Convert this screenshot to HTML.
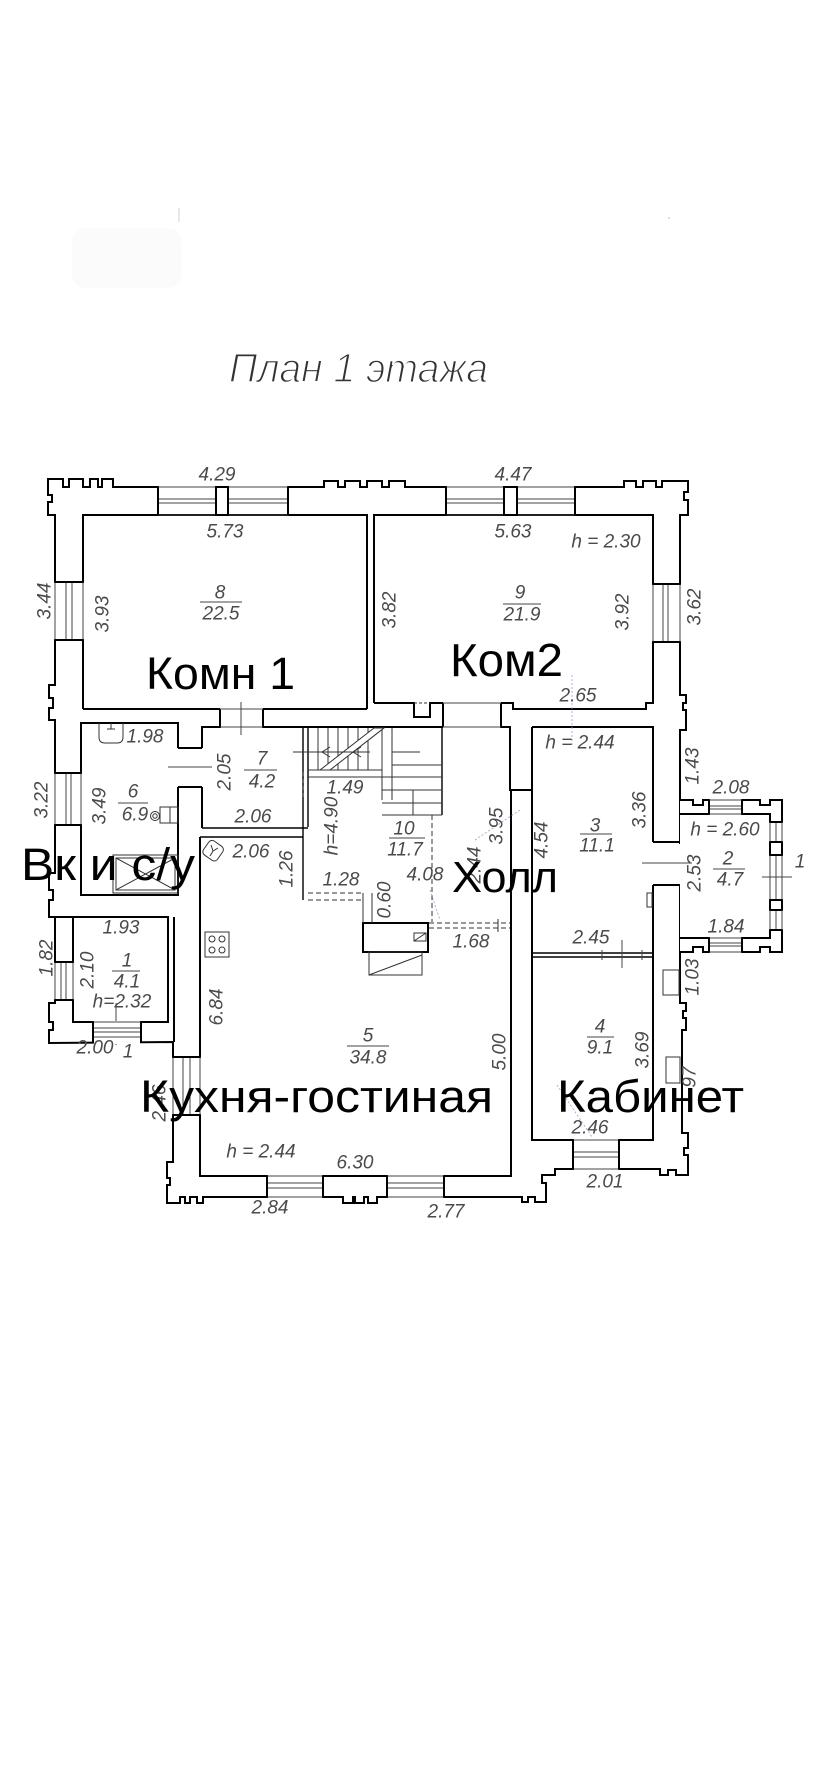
<!DOCTYPE html>
<html>
<head>
<meta charset="utf-8">
<style>
html,body{margin:0;padding:0;background:#fff;}
svg{display:block;}
.d{font-family:"Liberation Sans","DejaVu Sans",sans-serif;font-style:italic;font-size:19px;fill:#4a4a4a;text-anchor:middle;dominant-baseline:central;}
.big{font-family:"Liberation Sans","Noto Sans CJK SC",sans-serif;fill:#000;}
</style>
</head>
<body>
<svg width="828" height="1792" viewBox="0 0 828 1792" xmlns="http://www.w3.org/2000/svg">
<rect width="828" height="1792" fill="#fff"/>

<!-- faint marks at top -->
<rect x="72" y="228" width="110" height="60" rx="14" fill="#fbfbfb"/>
<line x1="179" y1="208" x2="179" y2="222" stroke="#d0d0d0" stroke-width="1"/>
<circle cx="669" cy="218" r="0.8" fill="#bbb"/>

<!-- title -->
<text x="229" y="382" font-family="Liberation Sans, Noto Sans CJK SC, sans-serif" font-style="italic" font-size="41" fill="#333" stroke="#fff" stroke-width="1.4" textLength="259" lengthAdjust="spacingAndGlyphs">План 1 этажа</text>

<!-- OUTER OUTLINE -->
<polygon fill="#fff" stroke="#000" stroke-width="2" stroke-linejoin="miter" points="
48,479 63,479 63,487 69,487 69,479 83,479 83,487 90,487 90,479 98,479 98,487 102,487 102,479 113,479 113,487
324,487 324,481 338,481 338,487 345,487 345,481 360,481 360,487 367,487 367,481 382,481 382,487 389,487 389,481 405,481 405,487
624,487 624,481 636,481 636,487 643,487 643,481 656,481 656,487 662,487 662,481 688,481
688,492 684,492 684,500 688,500 688,515 680,515
680,695 686,695 686,703 683,703 683,710 686,710 686,730 680,730
680,1003 686,1003 686,1011 683,1011 683,1018 686,1018 686,1030 682,1030
682,1133 688,1133 688,1148 684,1148 684,1155 688,1155 688,1175 676,1175 676,1170 668,1170 668,1175 660,1175 660,1169
555,1169 555,1175 542,1175 542,1183 546,1183 546,1202 535,1202 535,1197 528,1197 528,1202 522,1202 522,1197
377,1197 377,1203 368,1203 368,1197 364,1197 364,1203 355,1203 355,1197 353,1197 353,1203 343,1203 343,1197
203,1197 203,1203 197,1203 197,1197 190,1197 190,1203 185,1203 185,1197 180,1197 180,1203 167,1203
167,1185 170,1185 170,1178 167,1178 167,1162 173,1162 173,1042
49,1043 49,1030 53,1030 53,1022 49,1022 49,1003 55,1003
55,917 49,917 49,900 53,900 53,890 49,890 49,873 55,873
55,720 49,720 49,708 53,708 53,698 49,698 49,685 55,685
55,515 48,515 48,502 52,502 52,495 48,495"/>

<!-- PORCH (room 2) -->
<path fill="#fff" stroke="#000" stroke-width="2" d="M680 800 H693 V805 H703 V800 H760 V805 H770 V800 H782 V952 H770 V947 H760 V952 H703 V947 H693 V952 H680"/>
<path fill="none" stroke="#000" stroke-width="2" d="M680 814 H770 V938 H680"/>

<!-- ROOM WALL LINES -->
<g fill="none" stroke="#000" stroke-width="2">
  <path d="M83 709 V515 H367 V709"/>
  <path d="M83 709 H220 M263 709 H367"/>
  <path d="M374 703 V515 H653 V703 H646 V709 H513 V703 H501"/>
  <path d="M443 703 H430 V717 H414 V703 H374"/>
  <path d="M443 703 V727 M501 703 V727 H510 V790 H532"/>
  <path d="M178 748 V723 H81 V895 H178 V787"/>
  <path d="M178 748 H202 M178 787 H202"/>
  <path d="M220 709 V727 H202 V748 M202 787 V828"/>
  <path d="M263 709 V727 H443"/>
  <path d="M200 837 V1176 H511 V790"/>
  <path d="M532 727 V1140 H653 V885 M653 842 V727 H532"/>
  <path d="M653 842 H680 M653 885 H680"/>
  <path d="M55 917 H168 V1022 H73 V917"/>
  <path d="M174 917 V1042"/>
  <rect x="363" y="923" width="65" height="29"/>
</g>
<g fill="none" stroke="#000" stroke-width="1.4">
  <path d="M202 828 H308 M200 837 H303"/>
  <path d="M303 727 V900 M308 727 V827"/>
  <path d="M442 727 V815"/>
  <path d="M532 953 H653 M532 957 H653"/>
</g>

<!-- door openings (thin) -->
<g stroke="#444" stroke-width="1" fill="none">
  <path d="M220 709 H263 M220 727 H263"/>
  <path d="M241 702 V735"/>
  <path d="M168 767 H212"/>
  <path d="M443 703 H501 M443 727 H501"/>
  <path d="M642 863 H692"/>
  <path d="M762 877 H792"/>
  <path d="M622 940 V968 M602 950 V960 M642 950 V960"/>
  <path d="M116 1003 V1045"/>
</g>

<!-- WINDOWS -->
<g>
  <rect x="159" y="484" width="128" height="30" fill="#fff"/>
  <rect x="447" y="484" width="127" height="30" fill="#fff"/>
  <g stroke="#444" stroke-width="1">
    <path d="M158 487 H288 M158 499 H288 M158 503 H288 M158 515 H288"/>
    <path d="M446 487 H575 M446 499 H575 M446 503 H575 M446 515 H575"/>
  </g>
  <g stroke="#000" stroke-width="2" fill="#fff">
    <path d="M158 487 V515 M288 487 V515 M446 487 V515 M575 487 V515"/>
    <rect x="216" y="487" width="12" height="28"/>
    <rect x="504" y="487" width="13" height="28"/>
  </g>
  <rect x="268" y="1174" width="54" height="24" fill="#fff"/>
  <rect x="388" y="1174" width="55" height="24" fill="#fff"/>
  <g stroke="#444" stroke-width="1">
    <path d="M267 1176 H323 M267 1183 H323 M267 1188 H323 M267 1197 H323"/>
    <path d="M387 1176 H444 M387 1183 H444 M387 1188 H444 M387 1197 H444"/>
  </g>
  <path d="M267 1176 V1197 M323 1176 V1197 M387 1176 V1197 M444 1176 V1197" stroke="#000" stroke-width="2"/>
  <rect x="574" y="1138" width="44" height="32" fill="#fff"/>
  <path d="M573 1140 H619 M573 1152 H619 M573 1157 H619 M573 1169 H619" stroke="#444" stroke-width="1"/>
  <path d="M573 1140 V1169 M619 1140 V1169" stroke="#000" stroke-width="2"/>
  <rect x="94" y="1021" width="46" height="23" fill="#fff"/>
  <path d="M93 1022 H141 M93 1028 H141 M93 1032 H141 M93 1037 H141" stroke="#444" stroke-width="1"/>
  <path d="M93 1022 V1043 M141 1022 V1043" stroke="#000" stroke-width="2"/>
  <rect x="710" y="798" width="31" height="17" fill="#fff"/>
  <rect x="710" y="937" width="31" height="17" fill="#fff"/>
  <path d="M709 800 H742 M709 806 H742 M709 809 H742 M709 814 H742 M709 938 H742 M709 943 H742 M709 946 H742 M709 952 H742" stroke="#444" stroke-width="1"/>
  <path d="M709 800 V814 M742 800 V814 M709 938 V952 M742 938 V952" stroke="#000" stroke-width="2"/>
  <rect x="53" y="583" width="32" height="56" fill="#fff"/>
  <rect x="53" y="774" width="30" height="50" fill="#fff"/>
  <rect x="47" y="963" width="28" height="36" fill="#fff"/>
  <g stroke="#444" stroke-width="1">
    <path d="M55 582 V640 M66 582 V640 M72 582 V640 M83 582 V640"/>
    <path d="M55 773 V825 M66 773 V825 M71 773 V825 M81 773 V825"/>
    <path d="M55 962 V1000 M61 962 V1000 M66 962 V1000 M73 962 V1000"/>
  </g>
  <path d="M55 582 H83 M55 640 H83 M55 773 H81 M55 825 H81 M55 962 H73 M55 1000 H73" stroke="#000" stroke-width="2"/>
  <rect x="651" y="585" width="31" height="56" fill="#fff"/>
  <path d="M653 584 V642 M663 584 V642 M668 584 V642 M680 584 V642" stroke="#444" stroke-width="1"/>
  <path d="M653 584 H680 M653 642 H680" stroke="#000" stroke-width="2"/>
  <rect x="651" y="844" width="31" height="40" fill="#fff"/>
  <path d="M642 863 H692" stroke="#444" stroke-width="1"/>
  <path d="M653 842 H680 M653 885 H680" stroke="#000" stroke-width="2"/>
  <rect x="171" y="1058" width="31" height="56" fill="#fff"/>
  <path d="M173 1057 V1115 M183 1057 V1115 M190 1057 V1115 M200 1057 V1115" stroke="#444" stroke-width="1"/>
  <path d="M173 1057 H200 M173 1115 H200" stroke="#000" stroke-width="2"/>
  <rect x="768" y="823" width="16" height="18" fill="#fff"/>
  <rect x="768" y="856" width="16" height="43" fill="#fff"/>
  <rect x="768" y="911" width="16" height="18" fill="#fff"/>
  <path d="M770 822 V842 M776 822 V842 M782 822 V842 M770 855 V900 M776 855 V900 M782 855 V900 M770 910 V930 M776 910 V930 M782 910 V930" stroke="#444" stroke-width="1"/>
  <path d="M770 822 H782 M770 842 H782 M770 855 H782 M770 900 H782 M770 910 H782 M770 930 H782" stroke="#000" stroke-width="2"/>
  <path d="M762 877 H792" stroke="#444" stroke-width="1"/>
</g>

<!-- STAIRS -->
<g fill="none" stroke="#333" stroke-width="1">
  <path d="M318 728 V770 M328 728 V770 M338 728 V770 M348 728 V770 M358 728 V770 M368 728 V770"/>
  <path d="M308 770 H382 M308 777 H442"/>
  <path d="M382 728 V800 M392 728 V800"/>
  <path d="M392 752 H420 M392 765 H442 M382 790 H442 M382 803 H442 M382 815 H442 M413 790 V815"/>
  <polygon points="320,770 330,770 384,728 374,728" fill="#fff"/>
  <path d="M293 752 H370"/>
  <path d="M330 747 L322 752 L330 757 M361 747 L353 752 L361 757"/>
  <path d="M432 815 V922" stroke-dasharray="5,3"/>
  <path d="M303 772 V800" stroke-dasharray="4,3"/>
  <path d="M308 893 H363 M308 900 H363" stroke-dasharray="5,3"/>
  <path d="M363 893 V923 M372 893 V923"/>
  <path d="M429 923 H510 M429 928 H510" stroke-dasharray="5,3"/>
  <path d="M498 919 V932"/>
  <path d="M414 703 H430" stroke-dasharray="3,2"/>
</g>
<g fill="none" stroke="#333" stroke-width="1">
  <rect x="414" y="933" width="12" height="8"/>
  <path d="M414 941 L426 933"/>
  <rect x="369" y="952" width="53" height="23"/>
  <path d="M369 975 L422 955"/>
</g>

<!-- fixtures -->
<g fill="none" stroke="#333" stroke-width="1">
  <path d="M99 723 V737 Q99 743 105 743 H117 Q123 743 123 737 V723"/>
  <path d="M111 723 V729 M107 729 H115"/>
  <circle cx="155" cy="816" r="4.5"/>
  <circle cx="155" cy="816" r="2.2"/>
  <rect x="160" y="807" width="18" height="16"/>
  <path d="M170 807 V823"/>
  <rect x="113" y="855" width="65" height="38"/>
  <rect x="116" y="858" width="59" height="32"/>
  <path d="M116 858 L175 890 M175 858 L116 890"/>
  <rect x="205" y="842" width="17" height="17" rx="4" transform="rotate(35 213 850)"/>
  <path d="M211 845 L213 851 L218 848 M213 851 L210 856"/>
  <rect x="205" y="932" width="24" height="25"/>
  <circle cx="212" cy="939" r="3"/><circle cx="222" cy="939" r="3"/>
  <circle cx="212" cy="950" r="3"/><circle cx="222" cy="950" r="3"/>
  <rect x="647" y="893" width="5" height="14"/>
  <rect x="663" y="970" width="16" height="25"/>
  <rect x="666" y="1057" width="14" height="26"/>
</g>

<g stroke="#8aa6d6" stroke-width="0.8" fill="none" stroke-dasharray="2,2">
  <path d="M572 675 V747"/>
  <path d="M475 840 L520 810"/>
  <path d="M557 1085 L592 1137"/>
  <path d="M430 890 L440 920"/>
</g>

<!-- DIMENSION LABELS -->
<g class="d">
  <text x="217" y="475" class="d">4.29</text>
  <text x="513" y="475" class="d">4.47</text>
  <text x="225" y="532" class="d">5.73</text>
  <text x="513" y="532" class="d">5.63</text>
  <text x="606" y="542" class="d">h = 2.30</text>

  <text x="220" y="593" class="d">8</text>
  <text x="221" y="614" class="d">22.5</text>
  <text x="520" y="593" class="d">9</text>
  <text x="522" y="615" class="d">21.9</text>

  <text x="45" y="601" class="d" transform="rotate(-90 45 601)">3.44</text>
  <text x="103" y="614" class="d" transform="rotate(-90 103 614)">3.93</text>
  <text x="390" y="610" class="d" transform="rotate(-90 390 610)">3.82</text>
  <text x="623" y="612" class="d" transform="rotate(-90 623 612)">3.92</text>
  <text x="695" y="607" class="d" transform="rotate(-90 695 607)">3.62</text>

  <text x="578" y="696" class="d">2.65</text>
  <text x="580" y="743" class="d">h = 2.44</text>
  <text x="693" y="766" class="d" transform="rotate(-90 693 766)">1.43</text>
  <text x="731" y="788" class="d">2.08</text>

  <text x="145" y="737" class="d">1.98</text>
  <text x="225" y="772" class="d" transform="rotate(-90 225 772)">2.05</text>
  <text x="262" y="759" class="d">7</text>
  <text x="262" y="782" class="d">4.2</text>
  <text x="345" y="788" class="d">1.49</text>

  <text x="42" y="800" class="d" transform="rotate(-90 42 800)">3.22</text>
  <text x="100" y="806" class="d" transform="rotate(-90 100 806)">3.49</text>
  <text x="133" y="792" class="d">6</text>
  <text x="135" y="815" class="d">6.9</text>

  <text x="253" y="817" class="d">2.06</text>
  <text x="251" y="852" class="d">2.06</text>
  <text x="287" y="869" class="d" transform="rotate(-90 287 869)">1.26</text>
  <text x="332" y="826" class="d" transform="rotate(-90 332 826)">h=4.90</text>
  <text x="404" y="829" class="d">10</text>
  <text x="405" y="850" class="d">11.7</text>
  <text x="341" y="880" class="d">1.28</text>
  <text x="385" y="900" class="d" transform="rotate(-90 385 900)">0.60</text>
  <text x="425" y="875" class="d">4.08</text>
  <text x="475" y="865" class="d" transform="rotate(-90 475 865)">2.44</text>
  <text x="497" y="826" class="d" transform="rotate(-90 497 826)">3.95</text>
  <text x="542" y="840" class="d" transform="rotate(-90 542 840)">4.54</text>
  <text x="640" y="810" class="d" transform="rotate(-90 640 810)">3.36</text>

  <text x="595" y="826" class="d">3</text>
  <text x="597" y="846" class="d">11.1</text>
  <text x="725" y="830" class="d">h = 2.60</text>
  <text x="728" y="859" class="d">2</text>
  <text x="730" y="880" class="d">4.7</text>
  <text x="695" y="873" class="d" transform="rotate(-90 695 873)">2.53</text>
  <text x="800" y="862" class="d">1</text>
  <text x="726" y="927" class="d">1.84</text>
  <text x="591" y="938" class="d">2.45</text>
  <text x="471" y="942" class="d">1.68</text>
  <text x="693" y="977" class="d" transform="rotate(-90 693 977)">1.03</text>

  <text x="121" y="928" class="d">1.93</text>
  <text x="88" y="970" class="d" transform="rotate(-90 88 970)">2.10</text>
  <text x="127" y="961" class="d">1</text>
  <text x="127" y="982" class="d">4.1</text>
  <text x="122" y="1002" class="d">h=2.32</text>
  <text x="47" y="958" class="d" transform="rotate(-90 47 958)">1.82</text>
  <text x="217" y="1007" class="d" transform="rotate(-90 217 1007)">6.84</text>
  <text x="95" y="1048" class="d">2.00</text>
  <text x="128" y="1052" class="d">1</text>

  <text x="368" y="1036" class="d">5</text>
  <text x="368" y="1058" class="d">34.8</text>
  <text x="500" y="1052" class="d" transform="rotate(-90 500 1052)">5.00</text>
  <text x="600" y="1027" class="d">4</text>
  <text x="600" y="1048" class="d">9.1</text>
  <text x="643" y="1050" class="d" transform="rotate(-90 643 1050)">3.69</text>
  <text x="160" y="1103" class="d" transform="rotate(-90 160 1103)">2.46</text>
  <text x="690" y="1077" class="d" transform="rotate(-90 690 1077)">97</text>
  <text x="590" y="1128" class="d">2.46</text>
  <text x="261" y="1152" class="d">h = 2.44</text>
  <text x="355" y="1163" class="d">6.30</text>
  <text x="270" y="1208" class="d">2.84</text>
  <text x="446" y="1212" class="d">2.77</text>
  <text x="605" y="1182" class="d">2.01</text>
</g>

<g stroke="#444" stroke-width="1">
  <path d="M200 602 H242 M503 604 H541 M244 770 H277 M118 803 H148 M389 838 H425 M580 834 H612 M713 869 H745 M112 971 H140 M347 1046 H389 M587 1037 H614"/>
</g>

<!-- BIG LABELS -->
<g class="big">
  <text x="146" y="689" font-size="45" textLength="149" lengthAdjust="spacingAndGlyphs">Комн 1</text>
  <text x="450" y="676" font-size="46" textLength="113" lengthAdjust="spacingAndGlyphs">Ком2</text>
  <text x="21" y="880" font-size="45" textLength="174" lengthAdjust="spacingAndGlyphs">Вк и с/у</text>
  <text x="452" y="892" font-size="44" textLength="106" lengthAdjust="spacingAndGlyphs">Холл</text>
  <text x="140" y="1112" font-size="45" textLength="353" lengthAdjust="spacingAndGlyphs">Кухня-гостиная</text>
  <text x="557" y="1112" font-size="45" textLength="187" lengthAdjust="spacingAndGlyphs">Кабинет</text>
</g>
</svg>
</body>
</html>
